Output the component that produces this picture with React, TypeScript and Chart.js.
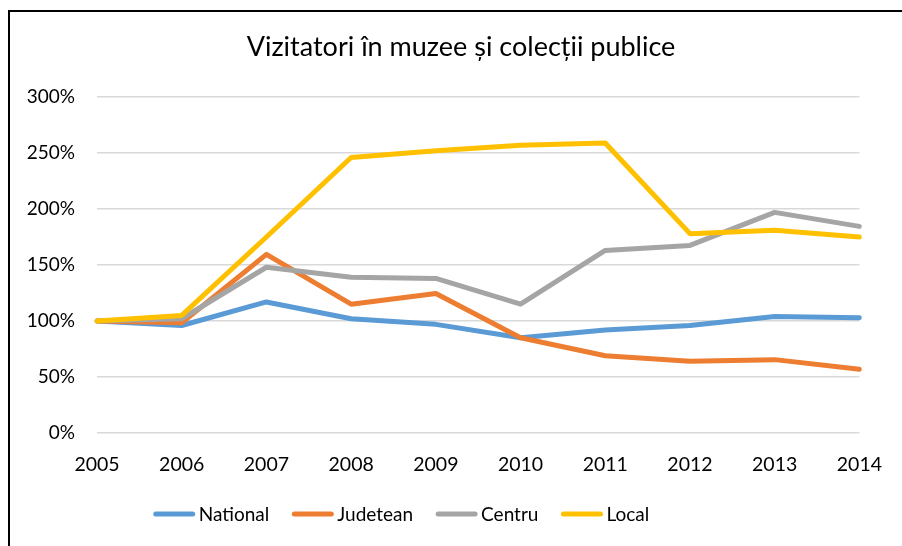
import React, { useEffect, useRef } from "react";
import { Chart, registerables } from "chart.js";

Chart.register(...registerables);

const years = ["2005", "2006", "2007", "2008", "2009", "2010", "2011", "2012", "2013", "2014"];
const national = [100, 96, 117, 102, 97, 85, 92, 96, 104, 103];
const judetean = [100, 98.5, 159.5, 115, 124.5, 85, 69, 64, 65.5, 57];
const centru = [100, 102, 148, 139, 138, 115, 163, 167.5, 197, 184.5];
const local = [100, 105, 175, 246, 252, 257, 259, 178, 181, 175];
const seriesNames = ["National", "Judetean", "Centru", "Local"];
const seriesColors = ["#5B9BD5", "#ED7D31", "#A5A5A5", "#FFC000"];
const titleText = "Vizitatori în muzee și colecții publice";

const FONT = "Lato, 'Noto Sans', sans-serif";

const overlayPlugin = {
  id: "overlay",
  afterDraw(chart: any) {
    const ctx = chart.ctx;
    ctx.save();
    // title
    ctx.fillStyle = "#000";
    ctx.font = `27px ${FONT}`;
    ctx.textAlign = "center";
    ctx.textBaseline = "alphabetic";
    ctx.fillText(titleText, 461, 56);
    // legend
    ctx.font = `19px ${FONT}`;
    const lineLen = 41;
    const gapText = 4;
    const gapItem = 23;
    const widths = seriesNames.map((n) => ctx.measureText(n).width);
    const total = widths.reduce((a, w) => a + lineLen + gapText + w, 0) + gapItem * (seriesNames.length - 1);
    let x = 401.5 - total / 2;
    const y = 514;
    ctx.textAlign = "left";
    ctx.textBaseline = "middle";
    seriesNames.forEach((n, i) => {
      ctx.strokeStyle = seriesColors[i];
      ctx.lineWidth = 5;
      ctx.lineCap = "round";
      ctx.beginPath();
      ctx.moveTo(x + 2, y);
      ctx.lineTo(x + lineLen - 2, y);
      ctx.stroke();
      ctx.fillStyle = "#000";
      ctx.fillText(n, x + lineLen + gapText, y + 1);
      x += lineLen + gapText + widths[i] + gapItem;
    });
    ctx.restore();
  },
};

export default function App() {
  const ref = useRef<HTMLCanvasElement>(null);
  useEffect(() => {
    if (!ref.current) return;
    const data = [national, judetean, centru, local];
    const chart = new Chart(ref.current, {
      type: "line",
      data: {
        labels: years,
        datasets: seriesNames.map((name, i) => ({
          label: name,
          data: data[i],
          borderColor: seriesColors[i],
          backgroundColor: seriesColors[i],
          borderWidth: 5,
          pointRadius: 0,
          tension: 0,
          borderCapStyle: "round" as const,
          borderJoinStyle: "round" as const,
          order: 4 - i,
        })),
      },
      options: {
        animation: false,
        responsive: false,
        devicePixelRatio: 1,
        layout: { padding: { left: 0, right: 42, top: 97, bottom: 60 } },
        plugins: {
          legend: { display: false },
          title: { display: false },
          tooltip: { enabled: false },
        },
        scales: {
          x: {
            type: "category",
            offset: false,
            grid: { display: false, drawTicks: false },
            border: { display: false },
            ticks: {
              color: "#000",
              font: { family: FONT, size: 19.5 },
              padding: 20,
              maxRotation: 0,
              autoSkip: false,
            },
            afterFit: (s: any) => {
              s.height = 546 - 433 - 60;
            },
          },
          y: {
            min: 0,
            max: 300,
            grid: { color: "#d9d9d9", lineWidth: 1.5, drawTicks: false },
            border: { display: false },
            ticks: {
              stepSize: 50,
              color: "#000",
              font: { family: FONT, size: 19 },
              padding: 22,
              callback: (v: any) => `${v}%`,
            },
            afterFit: (s: any) => {
              s.width = 97;
            },
          },
        },
      },
      plugins: [overlayPlugin],
    });
    return () => chart.destroy();
  }, []);
  return (
    <div>
      <canvas
        ref={ref}
        width={902}
        height={546}
        style={{ position: "absolute", left: 0, top: 0, width: 902, height: 546 }}
      />
      <div
        style={{
          position: "absolute",
          left: 8,
          top: 10,
          width: 894,
          height: 536,
          boxSizing: "border-box",
          borderLeft: "2.5px solid #000",
          borderTop: "2.5px solid #000",
          pointerEvents: "none",
        }}
      />
    </div>
  );
}
